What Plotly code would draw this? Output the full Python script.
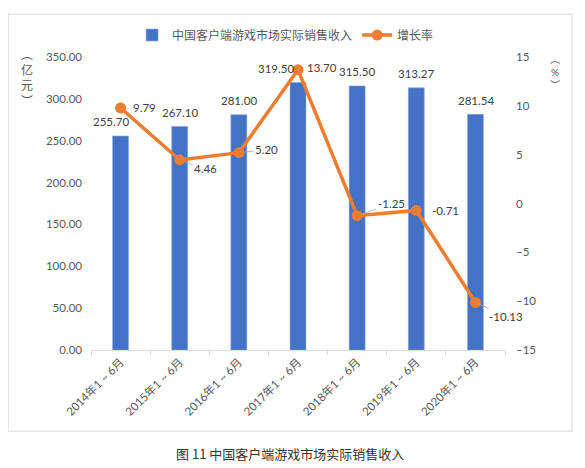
import plotly.graph_objects as go

# ── Data ──────────────────────────────────────────────────────────────────────
PERIODS = ["2014年1 ~ 6月", "2015年1 ~ 6月", "2016年1 ~ 6月", "2017年1 ~ 6月",
           "2018年1 ~ 6月", "2019年1 ~ 6月", "2020年1 ~ 6月"]
REVENUE = [255.70, 267.10, 281.00, 319.50, 315.50, 313.27, 281.54]   # 亿元
GROWTH = [9.79, 4.46, 5.20, 13.70, -1.25, -0.71, -10.13]             # %

BAR_NAME = "中国客户端游戏市场实际销售收入"
LINE_NAME = "增长率"
CAPTION = "图 11 中国客户端游戏市场实际销售收入"

# label nudges (px), mimic the hand-placed Excel labels
BAR_LABEL_DX = [-10, 0, 0, -22, 0, 0, 1]
LINE_LABEL_OFF = [(24, 0, False), (26, 9, True), (28, -3, True), (24, -2, False),
                  (34, -12, True), (29, 0, False), (31, 14, True)]

BLUE = "#4472C4"
ORANGE = "#ED7D31"
GREY = "#595959"
FONT = "Lato, 'Noto Sans CJK SC', sans-serif"

fig = go.Figure()
fig.add_trace(go.Bar(
    x=PERIODS, y=REVENUE, name=BAR_NAME,
    marker=dict(color=BLUE, line=dict(color="#8FAADC", width=0.6)),
))
fig.add_trace(go.Scatter(
    x=PERIODS, y=GROWTH, name=LINE_NAME, yaxis="y2",
    mode="lines+markers",
    line=dict(color=ORANGE, width=3.5),
    marker=dict(color=ORANGE, size=11),
))

# bar value labels
for p, v, dx in zip(PERIODS, REVENUE, BAR_LABEL_DX):
    fig.add_annotation(x=p, y=v, text=f"{v:.2f}", showarrow=False,
                       xshift=dx, yshift=14, yref="y",
                       font=dict(size=11.5, color="#404040"))

# growth labels, some with leader lines
for p, v, (dx, dy, lead) in zip(PERIODS, GROWTH, LINE_LABEL_OFF):
    if lead:
        fig.add_annotation(x=p, y=v, yref="y2", text=f"{v:.2f}",
                           showarrow=True, arrowhead=0, arrowwidth=0.8,
                           arrowcolor="#A6A6A6", ax=dx, ay=dy, standoff=4,
                           font=dict(size=11.5, color="#404040"))
    else:
        fig.add_annotation(x=p, y=v, yref="y2", text=f"{v:.2f}",
                           showarrow=False, xshift=dx, yshift=-dy,
                           font=dict(size=11.5, color="#404040"))

# axis titles (vertical) and caption
fig.add_annotation(x=-0.155, y=0.93, xref="paper", yref="paper",
                   xanchor="center", yanchor="middle",
                   text="︵<br>亿<br>元<br>︶", showarrow=False,
                   font=dict(size=12, color=GREY))
fig.add_annotation(x=1.12, y=0.95, xref="paper", yref="paper",
                   xanchor="center", yanchor="middle",
                   text="︵<br>%<br>︶", showarrow=False,
                   font=dict(size=10, color=GREY))
fig.add_annotation(x=0.48, y=-0.352, xref="paper", yref="paper",
                   xanchor="center", yanchor="middle",
                   text=CAPTION, showarrow=False,
                   font=dict(size=13, color="#333333",
                             family="'Noto Sans CJK SC', sans-serif"))

# chart frame
fig.add_shape(type="rect", xref="paper", yref="paper",
              x0=-0.2, x1=1.162, y0=-0.277, y1=1.146,
              line=dict(color="#D9D9D9", width=1))

# page body adds an 8px margin, so the figure is 8px smaller on each axis
fig.update_layout(
    width=577, height=460,
    margin=dict(l=83, r=80, t=47, b=118),
    paper_bgcolor="white", plot_bgcolor="white",
    font=dict(family=FONT, size=11.5, color=GREY),
    bargap=0.73,
    showlegend=True,
    legend=dict(orientation="h", x=0.47, xanchor="center", y=1.075,
                yanchor="middle", font=dict(size=12, color=GREY),
                bgcolor="rgba(0,0,0,0)"),
    xaxis=dict(range=[-0.5, len(PERIODS) - 0.5], autorange=False,
               showline=True, linecolor="#D9D9D9", ticks="outside",
               tickcolor="#D9D9D9", ticklen=4, tickson="boundaries",
               tickangle=-45, showgrid=False, tickfont=dict(size=11.5)),
    yaxis=dict(range=[0, 350], dtick=50, tickformat=".2f", showgrid=False,
               zeroline=False, showline=False, ticklabelstandoff=8),
    yaxis2=dict(range=[-15, 15], dtick=5, overlaying="y", side="right",
                showgrid=False, zeroline=False, showline=False,
                ticklabelstandoff=10),
)

fig.write_html("out.html")
